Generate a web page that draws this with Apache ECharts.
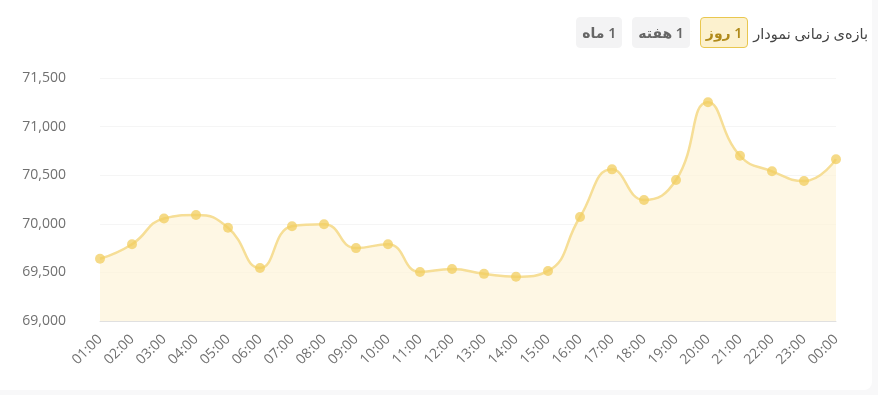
<!DOCTYPE html>
<html>
<head>
<meta charset="utf-8">
<script src="https://cdn.jsdelivr.net/npm/echarts@6/dist/echarts.min.js"></script>
<style>
html,body{margin:0;padding:0;background:#f8f8f9;width:878px;height:395px;overflow:hidden;font-family:"Open Sans","Noto Sans",sans-serif;}
#card{position:absolute;left:0;top:0;width:872px;height:390px;background:#fff;border-radius:0 0 8px 0;}
#chart{position:absolute;left:0;top:0;width:872px;height:390px;}
#bar{position:absolute;top:17px;right:10px;direction:rtl;display:flex;align-items:center;font-family:"Noto Sans","DejaVu Sans",sans-serif;}
#bar .lbl{font-size:14.5px;color:#444;margin-left:5px;}
#bar .btn{height:31px;box-sizing:border-box;border-radius:4px;background:#f3f3f4;color:#666;font-size:14px;font-weight:600;display:flex;align-items:center;justify-content:center;margin-left:10px;padding:0 5px;border:1px solid #f3f3f4;}
#bar .btn.on{background:#fcf1ce;border:1px solid #e9c74f;color:#b08a1a;}
</style>
</head>
<body>
<div id="card"><div id="chart"></div></div>
<div id="bar">
  <span class="lbl">بازه‌ی زمانی نمودار</span>
  <span class="btn on">1 روز</span>
  <span class="btn">1 هفته</span>
  <span class="btn">1 ماه</span>
</div>
<script>
var categories = ["01:00","02:00","03:00","04:00","05:00","06:00","07:00","08:00","09:00","10:00","11:00","12:00","13:00","14:00","15:00","16:00","17:00","18:00","19:00","20:00","21:00","22:00","23:00","00:00"];
var prices = [69640,69790,70055,70090,69960,69545,69975,69995,69750,69790,69505,69535,69485,69455,69515,70070,70560,70245,70450,71250,70700,70540,70440,70665];
var yTicks = {min:69000,max:71500,interval:500};

var chart = echarts.init(document.getElementById('chart'), null, {renderer:'canvas'});
chart.setOption({
  animation:false,
  grid:{left:100,right:36,top:78,bottom:69,outerBoundsMode:'none',containLabel:false},
  xAxis:{
    type:'category',
    data:categories,
    boundaryGap:false,
    axisLine:{lineStyle:{color:'#e0e0e0',width:1}},
    axisTick:{show:false},
    axisLabel:{rotate:45,color:'#707070',fontSize:14,fontFamily:'Open Sans',margin:16,interval:0}
  },
  yAxis:{
    type:'value',
    min:yTicks.min,max:yTicks.max,interval:yTicks.interval,
    axisLine:{show:false},
    axisTick:{show:false},
    splitLine:{lineStyle:{color:'#f5f5f5'}},
    axisLabel:{color:'#707070',fontSize:14,fontFamily:'Open Sans',margin:34,
      formatter:function(v){return v.toLocaleString('en-US');}}
  },
  series:[{
    type:'line',
    data:prices,
    smooth:true,
    symbol:'circle',
    symbolSize:10,
    itemStyle:{color:'rgba(242,206,95,0.75)'},
    lineStyle:{color:'#f6de96',width:2.5},
    areaStyle:{color:'#fdf3d8'}
  }]
});
</script>
</body>
</html>
